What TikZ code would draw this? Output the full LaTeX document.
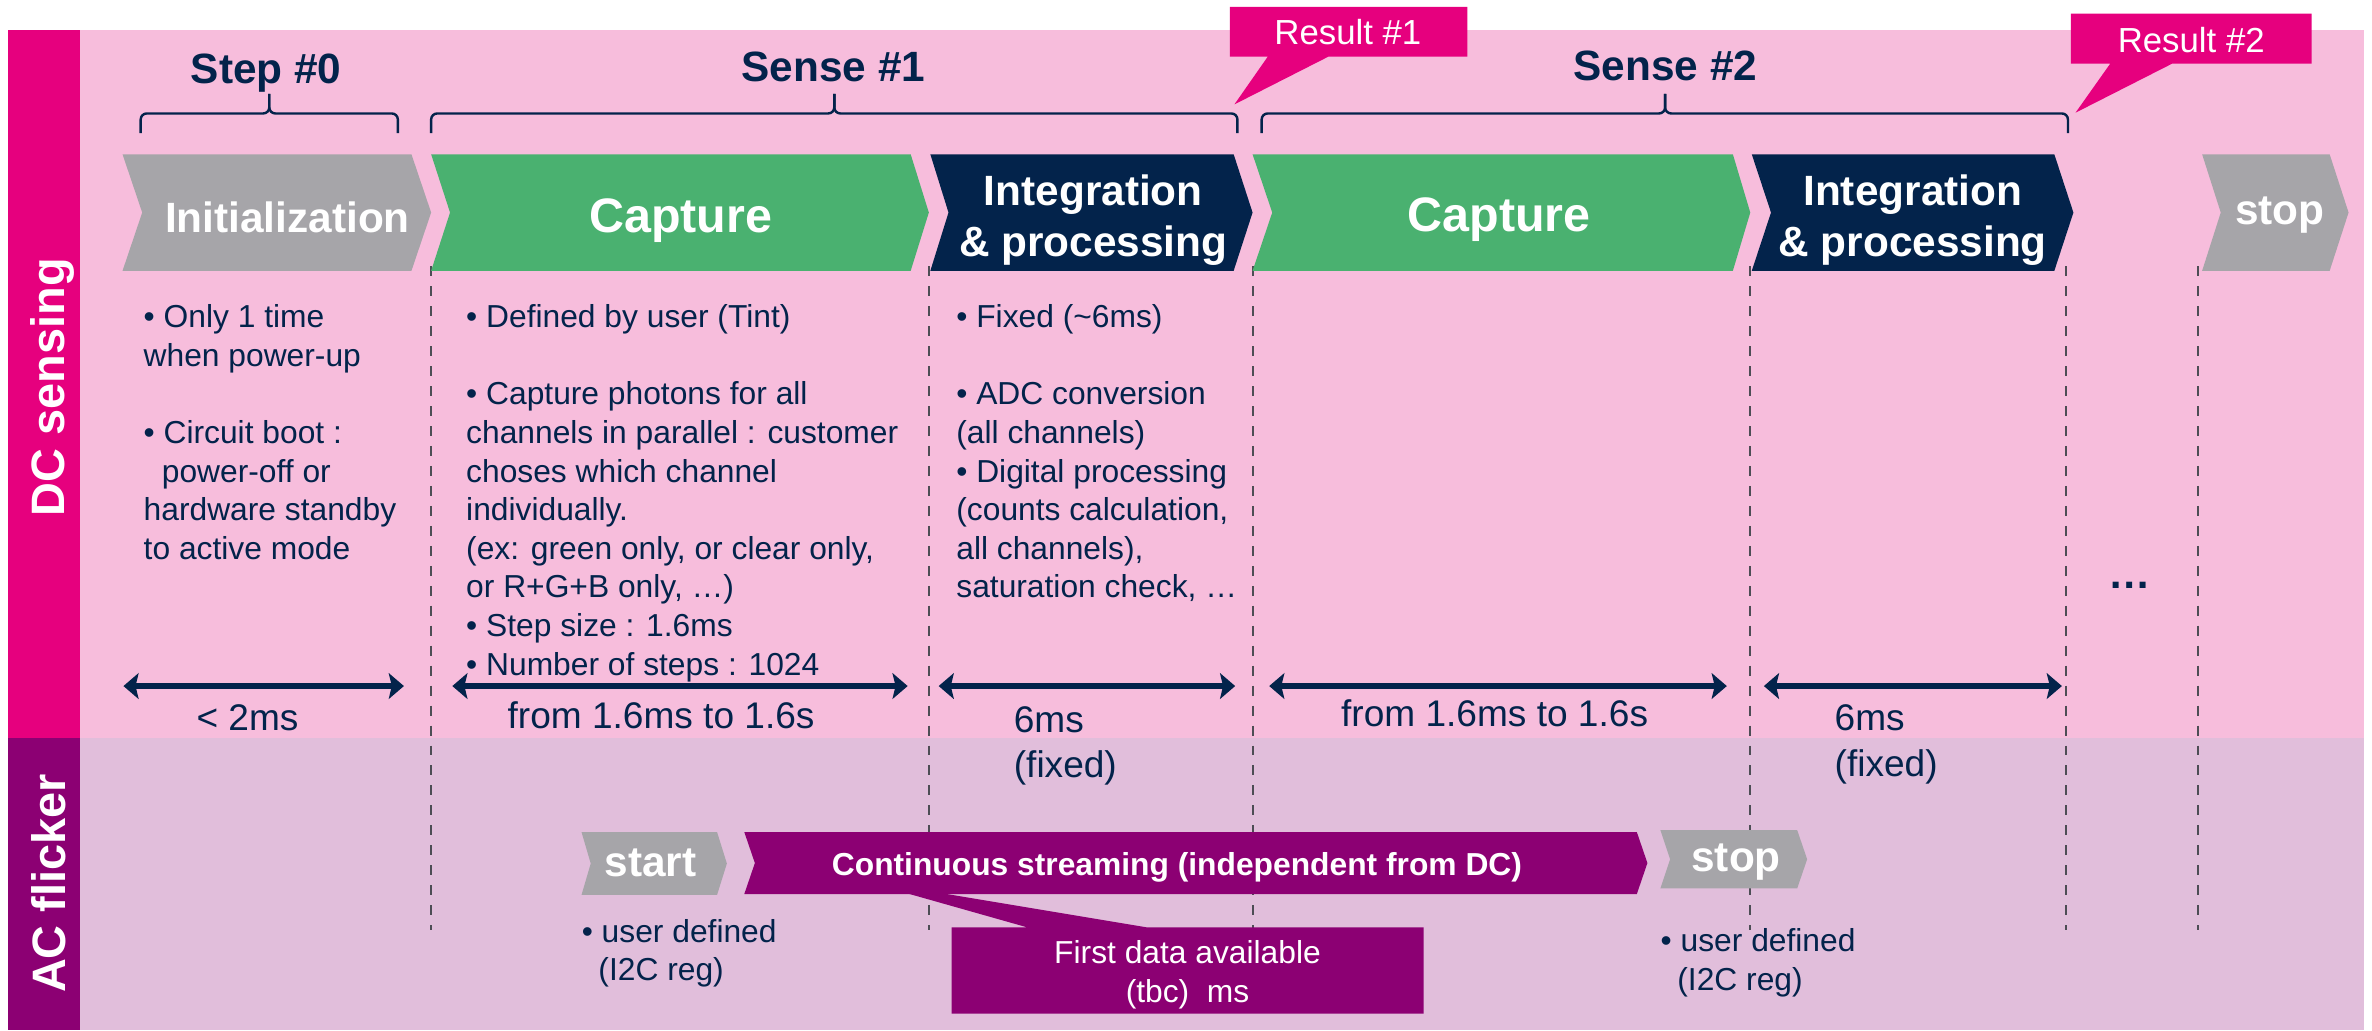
\documentclass[tikz,border=0pt]{standalone}
\usepackage{fontspec}
\setmainfont{Liberation Sans}
\usetikzlibrary{arrows.meta}
\definecolor{magen}{HTML}{E6007E}
\definecolor{pinkbg}{HTML}{F7BDDC}
\definecolor{purp}{HTML}{8C0073}
\definecolor{lilac}{HTML}{E1BEDB}
\definecolor{chevgray}{HTML}{A6A5A9}
\definecolor{capgreen}{HTML}{4AB170}
\definecolor{navy}{HTML}{03234B}
\definecolor{dashgray}{HTML}{4D4D55}
\begin{document}
\begin{tikzpicture}[x=1pt,y=-1pt,
  head/.style={text=navy,font=\bfseries\fontsize{28}{33}\selectfont,anchor=base,inner sep=0pt},
  chevtxt/.style={text=white,font=\bfseries\fontsize{28}{34}\selectfont,anchor=base,inner sep=0pt},
  bigchev/.style={text=white,font=\bfseries\fontsize{32}{38}\selectfont,anchor=base,inner sep=0pt},
  twoline/.style={text=white,font=\bfseries\fontsize{28}{34}\selectfont,anchor=north,align=center,inner sep=0pt},
  body/.style={text=navy,font=\fontsize{21}{25.5}\selectfont,align=left,anchor=north west,inner sep=0pt},
  dimlbl/.style={text=navy,font=\fontsize{24.5}{30}\selectfont,inner sep=0pt},
  restxt/.style={text=white,font=\fontsize{23}{28}\selectfont,anchor=base,inner sep=0pt},
  side/.style={text=white,font=\bfseries\fontsize{31}{36}\selectfont,rotate=90,anchor=base,inner sep=0pt},
  dashline/.style={draw=dashgray,line width=1.3pt,dash pattern=on 6.6pt off 6.6pt},
  bracestyle/.style={draw=navy,line width=1.6pt,rounded corners=4pt},
  dimarrow/.style={draw=navy,line width=3.6pt,{Stealth[length=10pt,width=17pt,inset=2pt]}-{Stealth[length=10pt,width=17pt,inset=2pt]}}
]
\useasboundingbox (0,0) rectangle (1568,681);
\fill[white] (0,0) rectangle (1568,681);
% background bands
\fill[pinkbg] (53,20) rectangle (1563,488);
\fill[lilac] (53,488) rectangle (1563,681);
\fill[magen] (5.5,20) rectangle (53,488);
\fill[purp] (5.5,488) rectangle (53,681);
\node[side] (dc) at (42.5,256) {DC sensing};
\node[side] (ac) at (43,584) {AC flicker};
% dashed separators
\foreach \xx in {285,614,828,1157,1366,1453}
  \draw[dashline] (\xx,176) -- (\xx,615);
% headings and braces
\node[head] (s0) at (176,55) {Step \#0};
\node[head] (s1) at (551,54) {Sense \#1};
\node[head] (s2) at (1101,53) {Sense \#2};
\draw[bracestyle] (93,88) -- (93,75) -- (178,75) -- (178,62);
\draw[bracestyle] (263,88) -- (263,75) -- (178,75) -- (178,62);
\draw[bracestyle] (285,88) -- (285,75) -- (551.5,75) -- (551.5,62);
\draw[bracestyle] (818,88) -- (818,75) -- (551.5,75) -- (551.5,62);
\draw[bracestyle] (834,88) -- (834,75) -- (1100.7,75) -- (1100.7,62);
\draw[bracestyle] (1367,88) -- (1367,75) -- (1100.7,75) -- (1100.7,62);
% result callouts
\fill[magen] (813,4.5) -- (970,4.5) -- (970,37.5) -- (878,37.5) -- (816,69) -- (838,37.5) -- (813,37.5) -- cycle;
\node[restxt] (r1) at (891,29.3) {Result \#1};
\fill[magen] (1369,9) -- (1528,9) -- (1528,42) -- (1436,42) -- (1372,74.5) -- (1395,42) -- (1369,42) -- cycle;
\node[restxt] (r2) at (1448.5,34.8) {Result \#2};
% DC chevrons
\fill[chevgray] (81,102) -- (272,102) -- (285,140.5) -- (272,179) -- (81,179) -- (94,140.5) -- cycle;
\fill[capgreen] (285,102) -- (602,102) -- (614,140.5) -- (602,179) -- (285,179) -- (297.5,140.5) -- cycle;
\fill[navy] (615,102) -- (815.5,102) -- (828,140.5) -- (815.5,179) -- (615,179) -- (627,140.5) -- cycle;
\fill[capgreen] (828,102) -- (1145.5,102) -- (1157,140.5) -- (1145.5,179) -- (828,179) -- (841,140.5) -- cycle;
\fill[navy] (1158,102) -- (1358,102) -- (1370.6,140.5) -- (1358,179) -- (1158,179) -- (1170.7,140.5) -- cycle;
\fill[chevgray] (1455.7,102) -- (1540,102) -- (1552.5,140.5) -- (1540,179) -- (1455.7,179) -- (1468,140.5) -- cycle;
\node[chevtxt] (init) at (190,153.6) {Initialization};
\node[bigchev] (cap1) at (450,154) {Capture};
\node[twoline] (int1) at (722.7,111.7) {\strut Integration\\\& processing};
\node[bigchev] (cap2) at (991,153) {Capture};
\node[twoline] (int2) at (1264.4,111.7) {\strut Integration\\\& processing};
\node[chevtxt] (stop1) at (1507,148.5) {stop};
% body texts
\node[body] (col1) at (94.8,198.65) {\strut • Only 1 time\\when power-up\\[25.5pt]• Circuit boot :\\\hspace*{12pt}power-off or\\hardware standby\\to active mode};
\node[body] (col2) at (308,198.65) {\strut • Defined by user (Tint)\\[25.5pt]• Capture photons for all\\channels in parallel : customer\\choses which channel\\individually.\\(ex: green only, or clear only,\\or R+G+B only, …)\\• Step size : 1.6ms\\• Number of steps : 1024};
\node[body] (col3) at (632,198.65) {\strut • Fixed (\textasciitilde6ms)\\[25.5pt]• ADC conversion\\(all channels)\\• Digital processing\\(counts calculation,\\all channels),\\saturation check, …};
\node[text=navy,font=\bfseries\fontsize{28}{34}\selectfont,anchor=base,inner sep=0pt] (dots) at (1408,389) {…};
% dimension arrows
\coordinate (d1a) at (81.6,453.5);  \coordinate (d1b) at (267,453.5);
\coordinate (d2a) at (299,453.5);   \coordinate (d2b) at (600,453.5);
\coordinate (d3a) at (620.5,453.5); \coordinate (d3b) at (816.5,453.5);
\coordinate (d4a) at (839,453.5);   \coordinate (d4b) at (1141.5,453.5);
\coordinate (d5a) at (1166,453.5);  \coordinate (d5b) at (1363,453.5);
\draw[dimarrow] (d1a) -- (d1b);
\draw[dimarrow] (d2a) -- (d2b);
\draw[dimarrow] (d3a) -- (d3b);
\draw[dimarrow] (d4a) -- (d4b);
\draw[dimarrow] (d5a) -- (d5b);
\node[dimlbl,anchor=base] (l1) at (163.6,482.6) {< 2ms};
\node[dimlbl,anchor=base] (l2) at (437,481.4) {from 1.6ms to 1.6s};
\node[dimlbl,anchor=north west,align=left] (l3) at (670,462.7) {\strut 6ms\\(fixed)};
\node[dimlbl,anchor=base] (l4) at (988,480.4) {from 1.6ms to 1.6s};
\node[dimlbl,anchor=north west,align=left] (l5) at (1212.6,462) {\strut 6ms\\(fixed)};
% AC flicker row
\fill[purp] (629,613) -- (679,613) -- (566,581) -- (758,613) -- (941,613) -- (941,670) -- (629,670) -- cycle;
\fill[chevgray] (384.4,550) -- (474,550) -- (480.5,570.8) -- (474,591.6) -- (384.4,591.6) -- (390.5,570.8) -- cycle;
\fill[purp] (492,550) -- (1082,550) -- (1089,570.5) -- (1082,591) -- (492,591) -- (499,570.5) -- cycle;
\fill[chevgray] (1097.6,548.7) -- (1188,548.7) -- (1194.6,568) -- (1188,587.3) -- (1097.6,587.3) -- (1104,568) -- cycle;
\node[chevtxt] (start) at (430,579.5) {start};
\node[text=white,font=\bfseries\fontsize{21}{25}\selectfont,anchor=base,inner sep=0pt] (stream) at (778,579) {Continuous streaming (independent from DC)};
\node[chevtxt] (stop2) at (1147.6,576) {stop};
\node[text=white,font=\fontsize{21}{25.5}\selectfont,anchor=north,align=center,inner sep=0pt] (first) at (785,618.95) {\strut First data available\\(tbc)\ \ ms};
\node[body] (ud1) at (384.4,604.65) {\strut • user defined\\\hspace*{11pt}(I2C reg)};
\node[body] (ud2) at (1097.6,611.15) {\strut • user defined\\\hspace*{11pt}(I2C reg)};
\end{tikzpicture}
\end{document}
